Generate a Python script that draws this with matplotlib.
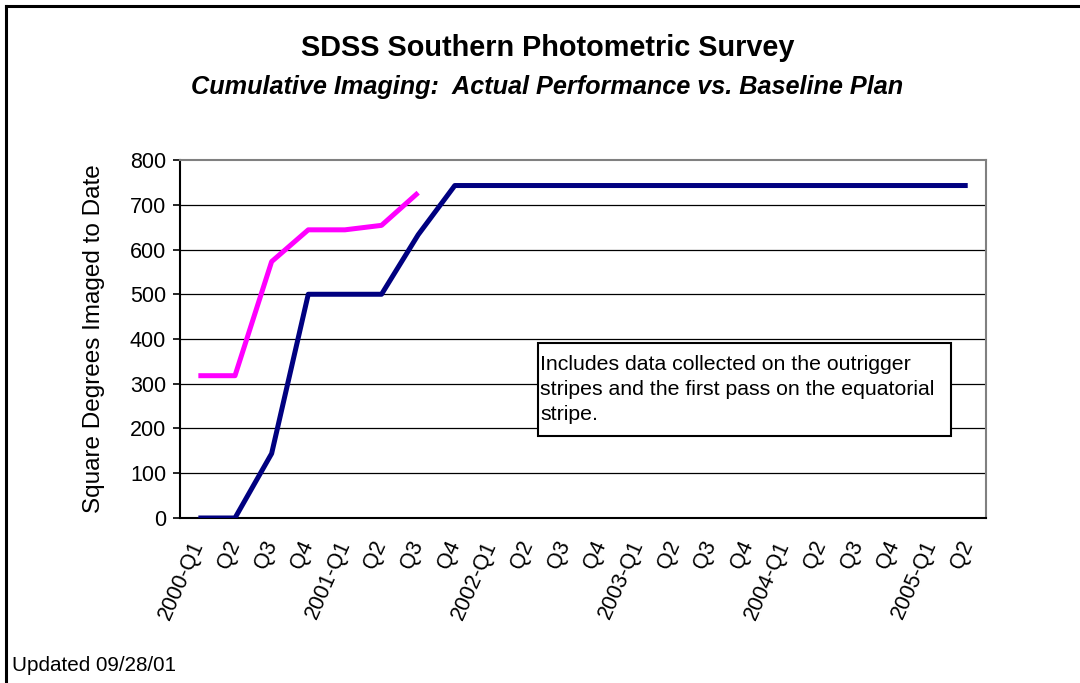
import matplotlib
matplotlib.use("Agg")
import matplotlib.pyplot as plt
from matplotlib.lines import Line2D
from matplotlib.patches import Rectangle

plt.rcParams["font.family"] = ["Liberation Sans", "DejaVu Sans"]

# Quarter labels, 2000-Q1 .. 2005-Q2
QUARTERS = [
    "2000-Q1", "Q2", "Q3", "Q4",
    "2001-Q1", "Q2", "Q3", "Q4",
    "2002-Q1", "Q2", "Q3", "Q4",
    "2003-Q1", "Q2", "Q3", "Q4",
    "2004-Q1", "Q2", "Q3", "Q4",
    "2005-Q1", "Q2",
]
# Actual performance (magenta), through 2001-Q3
ACTUAL = [318, 318, 573, 644, 644, 654, 727]
# Baseline plan (navy)
BASELINE = [0, 0, 144, 500, 500, 500, 633, 743, 743, 743, 743, 743,
            743, 743, 743, 743, 743, 743, 743, 743, 743, 743]

MAGENTA = "#ff00ff"
NAVY = "#000080"

fig = plt.figure(figsize=(10.8, 6.83), dpi=100)
ax = fig.add_axes([0.1667, 0.2416, 0.7463, 0.5241])

x = list(range(len(QUARTERS)))
ax.plot(x[:len(ACTUAL)], ACTUAL, color=MAGENTA, linewidth=3.6,
        solid_capstyle="butt", zorder=3)
ax.plot(x, BASELINE, color=NAVY, linewidth=3.6, solid_capstyle="butt", zorder=3)

ax.set_xlim(-0.5, len(QUARTERS) - 0.5)
ax.set_ylim(0, 800)
ax.set_yticks(range(0, 801, 100))
for v in range(100, 800, 100):
    ax.axhline(v, color="black", linewidth=0.9, zorder=1)

ax.set_xticks(x)
ax.set_xticklabels(QUARTERS, rotation=66, ha="right", va="center",
                   rotation_mode="anchor", fontsize=15.5)
ax.tick_params(axis="x", length=0, pad=17)
ax.tick_params(axis="y", length=5, width=1.2, labelsize=15.5, pad=5)

for side in ("top", "right"):
    ax.spines[side].set_color("#808080")
    ax.spines[side].set_linewidth(1.5)
for side in ("left", "bottom"):
    ax.spines[side].set_color("black")
    ax.spines[side].set_linewidth(1.5)

ax.set_ylabel("Square Degrees Imaged to Date", fontsize=17.5, labelpad=18)

# note box
ax.add_patch(Rectangle((0.444, 0.229), 0.512, 0.26, transform=ax.transAxes,
                       facecolor="white", edgecolor="black", linewidth=1.5,
                       zorder=4))
ax.text(0.447, 0.455,
        "Includes data collected on the outrigger\n"
        "stripes and the first pass on the equatorial\n"
        "stripe.",
        transform=ax.transAxes, ha="left", va="top", fontsize=15.3,
        linespacing=1.4, zorder=5)

fig.text(0.507, 0.929, "SDSS Southern Photometric Survey", ha="center",
         va="center", fontsize=20.8, fontweight="bold")
fig.text(0.507, 0.872, "Cumulative Imaging:  Actual Performance vs. Baseline Plan",
         ha="center", va="center", fontsize=18.2, fontweight="bold", style="italic")
fig.text(0.011, 0.026, "Updated 09/28/01", ha="left", va="center", fontsize=14.9)

# outer chart frame (only top and left edges fall inside the image)
fig.add_artist(Line2D([0.0056, 1.0], [0.9912, 0.9912], color="black",
                      linewidth=2.2, transform=fig.transFigure))
fig.add_artist(Line2D([0.0056, 0.0056], [0.0, 0.9912], color="black",
                      linewidth=2.2, transform=fig.transFigure))

fig.savefig("out.png", dpi=100)
